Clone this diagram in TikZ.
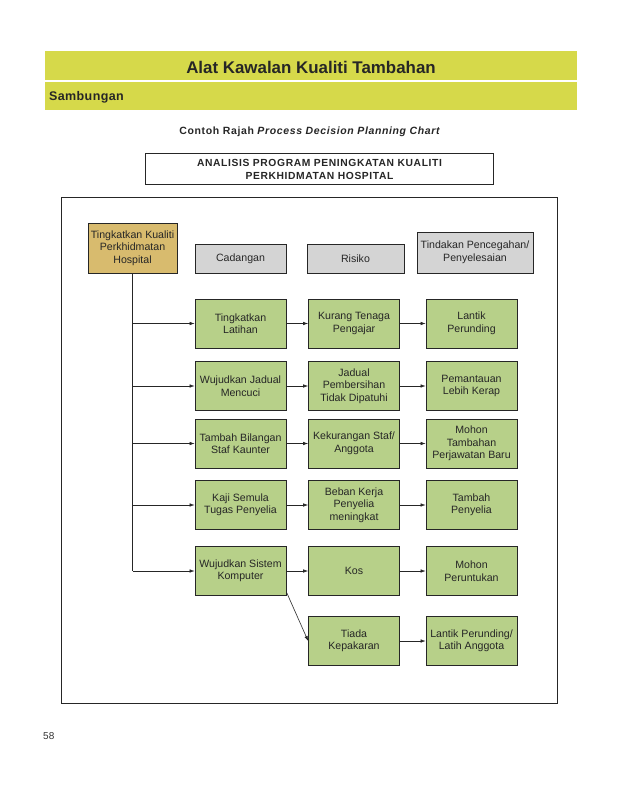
\documentclass[tikz,border=0pt]{standalone}
\usepackage{fontspec}
\setmainfont{Liberation Sans}
\usetikzlibrary{arrows.meta}

\definecolor{kuning}{RGB}{214,217,74}
\definecolor{perang}{RGB}{216,187,110}
\definecolor{abu}{RGB}{212,212,212}
\definecolor{daun}{RGB}{183,208,137}

\tikzset{
  kotak/.style={draw=black!85, line width=0.7pt, align=center, inner sep=1pt,
    text=black!85, font=\fontsize{10.6}{12.5}\selectfont},
  hijau/.style={kotak, fill=daun, minimum width=91pt, minimum height=49pt},
  kelabu/.style={kotak, fill=abu, minimum height=29pt},
  anak/.style={-{Latex[length=5pt,width=3.5pt]}, line width=0.6pt, black!85},
}

\begin{document}
\begin{tikzpicture}[x=1pt,y=-1pt]
\useasboundingbox (0,0) rectangle (638,789);
\fill[kuning] (45,51) rectangle (577,110);
\draw[white,line width=1.2pt] (45,81) -- (577,81);

\node[font=\bfseries\fontsize{16.9}{18}\selectfont,text=black!85] (t) at (311,67) {Alat Kawalan Kualiti Tambahan};
\node[anchor=west,inner sep=0pt,font=\bfseries\fontsize{12.5}{14}\selectfont\addfontfeatures{LetterSpace=3},text=black!85] (s) at (49,97) {Sambungan};
\node[font=\bfseries\fontsize{10.5}{12}\selectfont\addfontfeatures{LetterSpace=6},text=black!85] (c) at (310,132) {Contoh Rajah \textit{Process Decision Planning Chart}};
\node[draw=black!85, line width=0.8pt, minimum width=348pt, minimum height=31pt, align=center,
  font=\bfseries\fontsize{10.3}{13}\selectfont\addfontfeatures{LetterSpace=6}, text=black!85] (h) at (319.5,169) {ANALISIS PROGRAM PENINGKATAN KUALITI\\PERKHIDMATAN HOSPITAL};

\draw[black!85,line width=0.8pt] (61,197) rectangle (557,703);

\node[kotak, fill=perang, minimum width=89pt, minimum height=50pt] (a) at (132.5,248) {Tingkatkan Kualiti\\Perkhidmatan\\Hospital};
\node[kelabu, minimum width=91pt] (b1) at (240.5,258.5) {Cadangan};
\node[kelabu, minimum width=97pt] (b2) at (355.5,258.5) {Risiko};
\node[kelabu, minimum width=116pt, minimum height=41pt] (b3) at (475,252.5) {Tindakan Pencegahan/\\Penyelesaian};

\node[hijau] (p1) at (240.5,323.5) {Tingkatkan\\Latihan};
\node[hijau] (q1) at (354,323.5) {Kurang Tenaga\\Pengajar};
\node[hijau] (r1) at (471.5,323.5) {Lantik\\Perunding};

\node[hijau] (p2) at (240.5,386) {Wujudkan Jadual\\Mencuci};
\node[hijau] (q2) at (354,386) {Jadual\\Pembersihan\\Tidak Dipatuhi};
\node[hijau] (r2) at (471.5,386) {Pemantauan\\Lebih Kerap};

\node[hijau] (p3) at (240.5,443.5) {Tambah Bilangan\\Staf Kaunter};
\node[hijau] (q3) at (354,443.5) {Kekurangan Staf/\\Anggota};
\node[hijau] (r3) at (471.5,443.5) {Mohon\\Tambahan\\Perjawatan Baru};

\node[hijau] (p4) at (240.5,505) {Kaji Semula\\Tugas Penyelia};
\node[hijau] (q4) at (354,505) {Beban Kerja\\Penyelia\\meningkat};
\node[hijau] (r4) at (471.5,505) {Tambah\\Penyelia};

\node[hijau] (p5) at (240.5,571) {Wujudkan Sistem\\Komputer};
\node[hijau] (q5) at (354,571) {Kos};
\node[hijau] (r5) at (471.5,571) {Mohon\\Peruntukan};

\node[hijau] (q6) at (354,641) {Tiada\\Kepakaran};
\node[hijau] (r6) at (471.5,641) {Lantik Perunding/\\Latih Anggota};

\draw[line width=0.6pt,black!85] (a.south) -- (a.south |- p5);
\foreach \i in {1,...,5}{
  \draw[anak] (a.south |- p\i) -- (p\i);
  \draw[anak] (p\i) -- (q\i);
  \draw[anak] (q\i) -- (r\i);
}
\draw[anak] ([yshift=4pt]p5.south east) -- (q6.west);
\draw[anak] (q6) -- (r6);

\node[anchor=west,inner sep=0pt,font=\fontsize{10}{12}\selectfont,text=black!80] (n) at (43,736) {58};
\end{tikzpicture}
\end{document}
